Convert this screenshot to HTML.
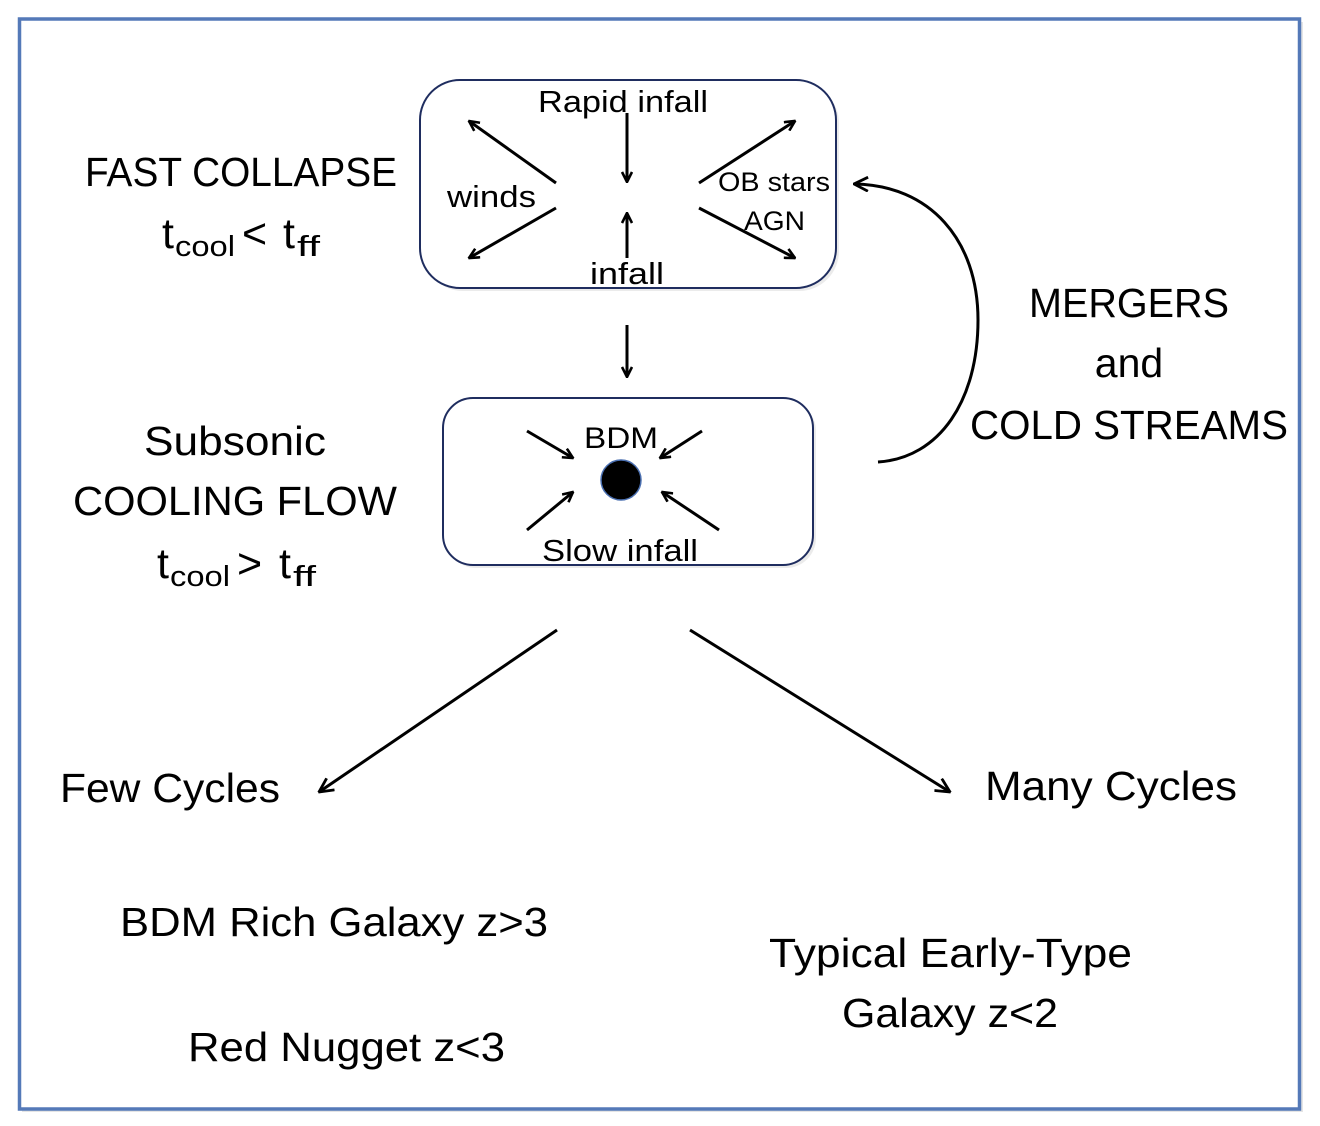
<!DOCTYPE html>
<html><head><meta charset="utf-8"><style>
html,body{margin:0;padding:0;background:#fff;width:1320px;height:1126px;overflow:hidden}
text{font-family:"Liberation Sans",sans-serif;fill:#000}
</style></head><body>
<svg width="1320" height="1126" viewBox="0 0 1320 1126" xmlns="http://www.w3.org/2000/svg">
<defs>
<marker id="a" viewBox="0 0 12 12" refX="11" refY="6" markerWidth="12" markerHeight="12" markerUnits="userSpaceOnUse" orient="auto">
<polyline points="1,1 11,6 1,11" fill="none" stroke="#000" stroke-width="2.6"/>
</marker>
<marker id="b" viewBox="0 0 16 16" refX="15" refY="8" markerWidth="16" markerHeight="16" markerUnits="userSpaceOnUse" orient="auto">
<polyline points="1,1 15,8 1,15" fill="none" stroke="#000" stroke-width="2.8"/>
</marker>
</defs>
<rect x="22" y="22" width="1281" height="1090" fill="#ccc" opacity="0.5"/>
<rect x="19.5" y="19" width="1280" height="1090" fill="#fff" stroke="#5479b8" stroke-width="3.5"/>

<!-- top box -->
<rect x="423" y="83" width="416" height="208" rx="40" fill="#ddd" opacity="0.6"/>
<rect x="420" y="80" width="416" height="208" rx="40" fill="#fff" stroke="#1f2d5f" stroke-width="2"/>
<g stroke="#000" stroke-width="3" fill="none" marker-end="url(#a)">
<line x1="556" y1="183" x2="469" y2="121"/>
<line x1="556" y1="208" x2="469" y2="258"/>
<line x1="627" y1="113" x2="627" y2="182"/>
<line x1="627" y1="258" x2="627" y2="213"/>
<line x1="699" y1="183" x2="795" y2="121"/>
<line x1="699" y1="208" x2="795" y2="258"/>
</g>
<text x="538" y="112" font-size="31" textLength="170" lengthAdjust="spacingAndGlyphs">Rapid infall</text>
<text x="447" y="207" font-size="31" textLength="89" lengthAdjust="spacingAndGlyphs">winds</text>
<text x="718" y="191" font-size="27" textLength="112" lengthAdjust="spacingAndGlyphs">OB stars</text>
<text x="744" y="230" font-size="27" textLength="61" lengthAdjust="spacingAndGlyphs">AGN</text>
<text x="590" y="284" font-size="31" textLength="74" lengthAdjust="spacingAndGlyphs">infall</text>

<text x="85" y="186" font-size="41" textLength="312" lengthAdjust="spacingAndGlyphs">FAST COLLAPSE</text>
<text x="162" y="248" font-size="43">t</text>
<text x="175" y="256" font-size="29" textLength="60" lengthAdjust="spacingAndGlyphs">cool</text>
<text x="242" y="248" font-size="43">&lt;</text>
<text x="283" y="248" font-size="43">t</text>
<text x="297" y="256" font-size="29" textLength="23" lengthAdjust="spacingAndGlyphs">ff</text>

<line x1="627" y1="325" x2="627" y2="377" stroke="#000" stroke-width="3" marker-end="url(#a)"/>

<!-- middle box -->
<rect x="446" y="401" width="370" height="167" rx="30" fill="#ddd" opacity="0.6"/>
<rect x="443" y="398" width="370" height="167" rx="30" fill="#fff" stroke="#1f2d5f" stroke-width="2"/>
<g stroke="#000" stroke-width="3" fill="none" marker-end="url(#a)">
<line x1="527" y1="431" x2="573" y2="458"/>
<line x1="702" y1="431" x2="660" y2="458"/>
<line x1="527" y1="530" x2="573" y2="492"/>
<line x1="719" y1="530" x2="662" y2="492"/>
</g>
<circle cx="621" cy="480" r="20" fill="#000" stroke="#4a6fb0" stroke-width="1.5"/>
<text x="584" y="448" font-size="30" textLength="74" lengthAdjust="spacingAndGlyphs">BDM</text>
<text x="542" y="561" font-size="31" textLength="156" lengthAdjust="spacingAndGlyphs">Slow infall</text>

<text x="235" y="455" font-size="41" text-anchor="middle" textLength="182" lengthAdjust="spacingAndGlyphs">Subsonic</text>
<text x="73" y="515" font-size="41" textLength="324" lengthAdjust="spacingAndGlyphs">COOLING FLOW</text>
<text x="157" y="578" font-size="43">t</text>
<text x="170" y="586" font-size="29" textLength="60" lengthAdjust="spacingAndGlyphs">cool</text>
<text x="237" y="578" font-size="43">&gt;</text>
<text x="279" y="578" font-size="43">t</text>
<text x="293" y="586" font-size="29" textLength="23" lengthAdjust="spacingAndGlyphs">ff</text>

<!-- curved arrow -->
<path d="M878,462 C940,458 978,400 978,320 C978,240 930,185 854,184" fill="none" stroke="#000" stroke-width="3" marker-end="url(#b)"/>
<text x="1129" y="317" font-size="41" text-anchor="middle" textLength="200" lengthAdjust="spacingAndGlyphs">MERGERS</text>
<text x="1129" y="377" font-size="41" text-anchor="middle">and</text>
<text x="970" y="439" font-size="41" textLength="318" lengthAdjust="spacingAndGlyphs">COLD STREAMS</text>

<g stroke="#000" stroke-width="3" fill="none" marker-end="url(#b)">
<line x1="557" y1="630" x2="319" y2="792"/>
<line x1="690" y1="630" x2="950" y2="792"/>
</g>
<text x="60" y="802" font-size="41" textLength="220" lengthAdjust="spacingAndGlyphs">Few Cycles</text>
<text x="985" y="800" font-size="41" textLength="252" lengthAdjust="spacingAndGlyphs">Many Cycles</text>
<text x="120" y="936" font-size="41" textLength="428" lengthAdjust="spacingAndGlyphs">BDM Rich Galaxy z&gt;3</text>
<text x="769" y="967" font-size="41" textLength="363" lengthAdjust="spacingAndGlyphs">Typical Early-Type</text>
<text x="842" y="1027" font-size="41" textLength="216" lengthAdjust="spacingAndGlyphs">Galaxy z&lt;2</text>
<text x="188" y="1061" font-size="41" textLength="317" lengthAdjust="spacingAndGlyphs">Red Nugget z&lt;3</text>
</svg>
</body></html>
